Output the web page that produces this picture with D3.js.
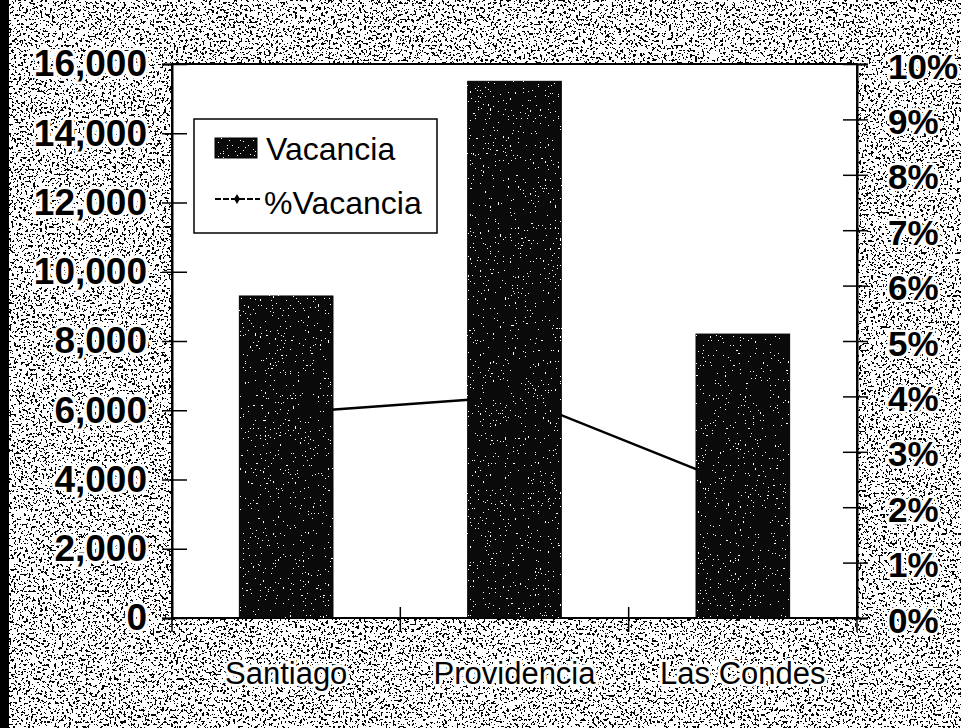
<!DOCTYPE html>
<html><head><meta charset="utf-8">
<script src="https://cdn.jsdelivr.net/npm/d3@7"></script>
<style>body{margin:0;background:#fff}svg{display:block}</style>
</head><body>
<script>
const categories = ["Santiago", "Providencia", "Las Condes"];
const vacancia = [9300, 15500, 8200];
const pctVacancia = [3.7, 4.0, 2.35];
const leftTicks = [0, 2000, 4000, 6000, 8000, 10000, 12000, 14000, 16000];
const rightTicks = [0, 1, 2, 3, 4, 5, 6, 7, 8, 9, 10];
const seriesNames = ["Vacancia", "%Vacancia"];

const W = 961, H = 728;
const m = {l: 172, r: 857, t: 64, b: 618};
const svg = d3.select("body").append("svg").attr("width", W).attr("height", H);
const defs = svg.append("defs");

const table = (n, k) => d3.range(n).map(i => (i < k ? 0 : 1)).join(" ");

// gray speckled background texture
const fBg = defs.append("filter").attr("id", "bgnoise").attr("x", 0).attr("y", 0).attr("width", W).attr("height", H).attr("filterUnits", "userSpaceOnUse");
fBg.append("feTurbulence").attr("type", "fractalNoise").attr("baseFrequency", 0.42).attr("numOctaves", 2).attr("seed", 4).attr("result", "t");
fBg.append("feColorMatrix").attr("in", "t").attr("type", "saturate").attr("values", 0).attr("result", "g");
const ct = fBg.append("feComponentTransfer").attr("in", "g");
["feFuncR", "feFuncG", "feFuncB"].forEach(f => ct.append(f).attr("type", "discrete").attr("tableValues", table(40, 17)));
ct.append("feFuncA").attr("type", "linear").attr("slope", 0).attr("intercept", 1);

// white speckle for bars
const fSp = defs.append("filter").attr("id", "speckle").attr("x", 0).attr("y", 0).attr("width", "100%").attr("height", "100%");
fSp.append("feTurbulence").attr("type", "fractalNoise").attr("baseFrequency", 0.6).attr("numOctaves", 1).attr("seed", 7).attr("result", "t");
fSp.append("feColorMatrix").attr("in", "t").attr("type", "matrix")
  .attr("values", "0 0 0 0 1  0 0 0 0 1  0 0 0 0 1  1 0 0 0 0").attr("result", "a");
const ct2 = fSp.append("feComponentTransfer").attr("in", "a");
ct2.append("feFuncA").attr("type", "discrete").attr("tableValues", table(40, 28));

svg.append("rect").attr("width", W).attr("height", H).attr("fill", "#999").attr("filter", "url(#bgnoise)");
svg.append("rect").attr("x", 0).attr("y", 0).attr("width", 9).attr("height", H).attr("fill", "#000");

// plot area
svg.append("rect").attr("x", m.l).attr("y", m.t).attr("width", m.r - m.l).attr("height", m.b - m.t)
  .attr("fill", "#fff").attr("stroke", "#000").attr("stroke-width", 2);

const x = d3.scaleBand().domain(categories).range([m.l, m.r]).padding(0);
const y = d3.scaleLinear().domain([0, 16000]).range([m.b, m.t]);
const y2 = d3.scaleLinear().domain([0, 10]).range([m.b, m.t]);
const bw = x.bandwidth() * 0.41;

// line series
const pts = categories.map((c, i) => [x(c) + x.bandwidth() / 2, y2(pctVacancia[i])]);
svg.append("path").attr("d", d3.line()(pts)).attr("fill", "none").attr("stroke", "#000").attr("stroke-width", 2.5);

// bars
const bars = svg.append("g");
categories.forEach((c, i) => {
  const bx = x(c) + (x.bandwidth() - bw) / 2;
  bars.append("rect").attr("x", bx).attr("y", y(vacancia[i])).attr("width", bw).attr("height", m.b - y(vacancia[i]))
    .attr("fill", "#0a0a0a").attr("stroke", "#000").attr("stroke-width", 1);
  bars.append("rect").attr("x", bx).attr("y", y(vacancia[i])).attr("width", bw).attr("height", m.b - y(vacancia[i]))
    .attr("fill", "#000").attr("filter", "url(#speckle)");
});

const halo = (sel, w) => sel.attr("stroke", "#fff").attr("stroke-width", w).attr("paint-order", "stroke").attr("stroke-linejoin", "round");

// left axis
const gl = svg.append("g").attr("transform", `translate(${m.l},0)`)
  .call(d3.axisLeft(y).tickValues(leftTicks).tickFormat(d3.format(",")).tickSize(10).tickPadding(15));
gl.select(".domain").attr("stroke", "#000").attr("stroke-width", 2);
gl.selectAll(".tick line").attr("x1", 15).attr("x2", -10).attr("stroke-width", 1.5);
gl.selectAll(".tick text").attr("font-family", "Liberation Sans, Arial, sans-serif").attr("font-weight", "bold")
  .attr("font-size", 37).attr("fill", "#000").call(halo, 6);

// right axis
const gr = svg.append("g").attr("transform", `translate(${m.r},0)`)
  .call(d3.axisRight(y2).tickValues(rightTicks).tickFormat(d => d + "%").tickSize(11).tickPadding(20));
gr.select(".domain").attr("stroke", "#000").attr("stroke-width", 2);
gr.selectAll(".tick line").attr("x1", -14).attr("x2", 11).attr("stroke-width", 1.5);
gr.selectAll(".tick text").attr("font-family", "Liberation Sans, Arial, sans-serif").attr("font-weight", "bold")
  .attr("font-size", 35).attr("fill", "#000").attr("dy", "0.4em").call(halo, 5);

// bottom axis
const gb = svg.append("g").attr("transform", `translate(0,${m.b})`)
  .call(d3.axisBottom(x).tickSize(0).tickPadding(0));
gb.select(".domain").remove();
gb.selectAll(".tick text").attr("y", 66).attr("dy", 0).attr("font-family", "Liberation Sans, Arial, sans-serif")
  .attr("font-size", 31).attr("fill", "#000").call(halo, 6);
const bounds = categories.map(c => x(c)).concat([x(categories[categories.length - 1]) + x.bandwidth()]);
gb.selectAll("line.bt").data(bounds).join("line").attr("class", "bt")
  .attr("x1", d => d).attr("x2", d => d).attr("y1", -11).attr("y2", 14).attr("stroke", "#000").attr("stroke-width", 1.5);

// legend
const lg = svg.append("g");
lg.append("rect").attr("x", 194).attr("y", 119).attr("width", 243).attr("height", 114)
  .attr("fill", "#fff").attr("stroke", "#000").attr("stroke-width", 1.5);
lg.append("rect").attr("x", 215).attr("y", 138).attr("width", 42).attr("height", 20).attr("fill", "#0a0a0a").attr("stroke", "#000");
lg.append("rect").attr("x", 215).attr("y", 138).attr("width", 42).attr("height", 20).attr("fill", "#000").attr("filter", "url(#speckle)");
lg.append("line").attr("x1", 215).attr("x2", 260).attr("y1", 199).attr("y2", 199).attr("stroke", "#000").attr("stroke-width", 2).attr("stroke-dasharray", "6,2");
lg.append("path").attr("d", d3.symbol(d3.symbolDiamond, 30)()).attr("transform", "translate(237,199)").attr("fill", "#000");
lg.append("text").attr("x", 266).attr("y", 160).text(seriesNames[0])
  .attr("font-family", "Liberation Sans, Arial, sans-serif").attr("font-size", 32).attr("fill", "#000");
lg.append("text").attr("x", 264).attr("y", 214).text(seriesNames[1])
  .attr("font-family", "Liberation Sans, Arial, sans-serif").attr("font-size", 32).attr("fill", "#000");
</script>
</body></html>
